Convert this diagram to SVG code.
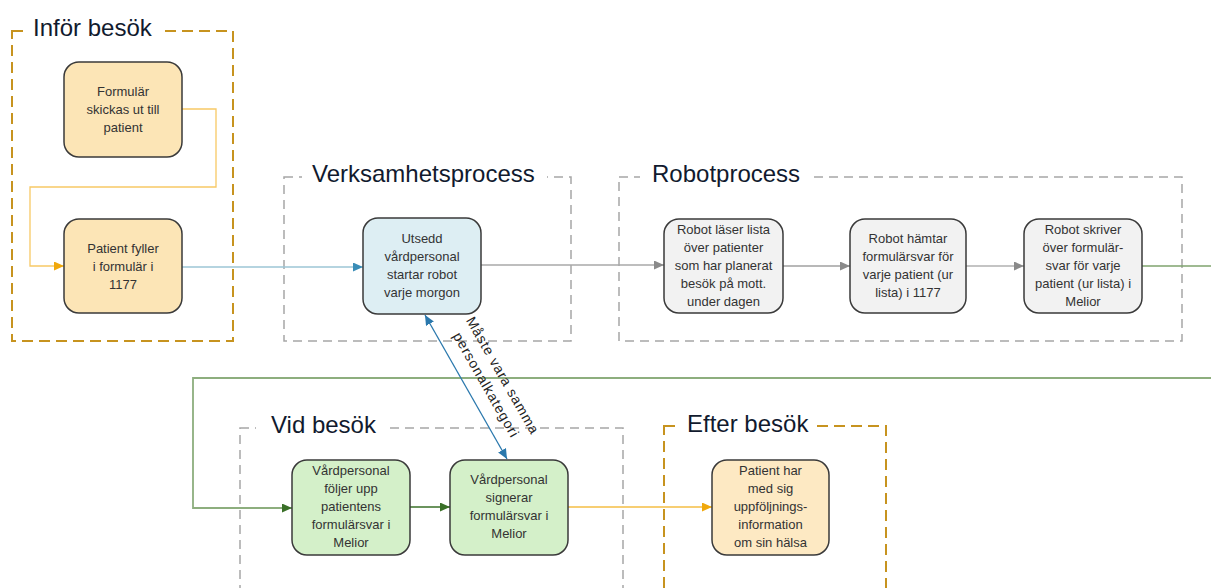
<svg xmlns="http://www.w3.org/2000/svg" width="1211" height="588" viewBox="0 0 1211 588">
<style>
text{font-family:"Liberation Sans",Arial,sans-serif;fill:#1f1f1f}
.ttl{font-size:24px;fill:#111a2e}
.nt{font-size:13px;text-anchor:middle;fill:#333}
.lbl{font-size:14px;text-anchor:middle;fill:#222}
.grpO{fill:none;stroke:#C7931F;stroke-width:2;stroke-dasharray:11 6}
.grpG{fill:none;stroke:#A6A6A6;stroke-width:1.5;stroke-dasharray:9 6}
.box{stroke:#3a3a3a;stroke-width:1.5}
.or{fill:#FCE5B6}
.bl{fill:#DDEEF3}
.gr{fill:#F2F2F2}
.gn{fill:#D4F0C9}
.cut{fill:#fff}
.c{fill:none}
</style>
<defs>
<marker id="aO" markerUnits="userSpaceOnUse" markerWidth="11" markerHeight="10" refX="10" refY="4.5" orient="auto"><path d="M0,0 L10,4.5 L0,9 z" fill="#F0A80C"/></marker>
<marker id="aB" markerUnits="userSpaceOnUse" markerWidth="11" markerHeight="10" refX="10" refY="4.5" orient="auto"><path d="M0,0 L10,4.5 L0,9 z" fill="#3A8DB7"/></marker>
<marker id="aD" markerUnits="userSpaceOnUse" markerWidth="11" markerHeight="10" refX="10" refY="4.5" orient="auto-start-reverse"><path d="M0,0 L10,4.5 L0,9 z" fill="#2A78AD"/></marker>
<marker id="aG" markerUnits="userSpaceOnUse" markerWidth="11" markerHeight="10" refX="10" refY="4.5" orient="auto"><path d="M0,0 L10,4.5 L0,9 z" fill="#8A8A8A"/></marker>
<marker id="aN" markerUnits="userSpaceOnUse" markerWidth="11" markerHeight="10" refX="10" refY="4.5" orient="auto"><path d="M0,0 L10,4.5 L0,9 z" fill="#3A7028"/></marker>
</defs>
<rect width="1211" height="588" fill="#fff"/>

<g id="groups">
<g id="g-infor">
<rect class="grpO" x="12" y="31" width="221" height="310"/>
<rect class="cut" x="27" y="14" width="134" height="30"/>
<text class="ttl" x="33" y="36">Inför besök</text>
</g>
<g id="g-verksamhet">
<rect class="grpG" x="284" y="177" width="287" height="164"/>
<rect class="cut" x="302" y="160" width="245" height="30"/>
<text class="ttl" x="312" y="182">Verksamhetsprocess</text>
</g>
<g id="g-robot">
<rect class="grpG" x="619" y="177" width="563" height="164"/>
<rect class="cut" x="640" y="160" width="172" height="30"/>
<text class="ttl" x="652" y="182">Robotprocess</text>
</g>
<g id="g-vid">
<rect class="grpG" x="240" y="428" width="383" height="180"/>
<rect class="cut" x="256" y="410" width="130" height="30"/>
<text class="ttl" x="271" y="433">Vid besök</text>
</g>
<g id="g-efter">
<rect class="grpO" x="664" y="426" width="222" height="182"/>
<rect class="cut" x="678" y="408" width="138" height="30"/>
<text class="ttl" x="687" y="432">Efter besök</text>
</g>
</g>

<g id="connectors">
<path class="c" d="M182,109 H216 V187 H30 V266 H64" stroke="#F8C965" stroke-width="1.3" marker-end="url(#aO)"/>
<path class="c" d="M182,267 H363" stroke="#9DC6D6" stroke-width="1.5" marker-end="url(#aB)"/>
<path class="c" d="M481,265 H664" stroke="#A8A8A8" stroke-width="1.5" marker-end="url(#aG)"/>
<path class="c" d="M783,266 H850" stroke="#A0A0A0" stroke-width="1.5" marker-end="url(#aG)"/>
<path class="c" d="M966,266 H1024" stroke="#B0B0B0" stroke-width="1.5" marker-end="url(#aG)"/>
<path class="c" d="M1142,266 H1211" stroke="#7FA36E" stroke-width="1.5"/>
<path class="c" d="M1211,378 H193 V508 H292" stroke="#8DAE7E" stroke-width="1.8" marker-end="url(#aN)"/>
<path class="c" d="M410,507 H450" stroke="#3A7028" stroke-width="1.5" marker-end="url(#aN)"/>
<path class="c" d="M568,507 H712" stroke="#F5BE45" stroke-width="1.5" marker-end="url(#aO)"/>
<path class="c" d="M425,315 L507,459" stroke="#2A78AD" stroke-width="1.3" marker-start="url(#aD)" marker-end="url(#aD)"/>
<g transform="translate(494,380) rotate(60.3)">
<text class="lbl" x="0" y="-5" textLength="132" lengthAdjust="spacing">Måste vara samma</text>
<text class="lbl" x="0" y="14" textLength="118" lengthAdjust="spacing">personalkategori</text>
</g>
</g>

<g id="n-formular">
<rect class="box or" x="64" y="62" width="118" height="95" rx="15"/>
<text class="nt" x="123" y="96"><tspan x="123">Formulär</tspan><tspan x="123" dy="18">skickas ut till</tspan><tspan x="123" dy="18">patient</tspan></text>
</g>
<g id="n-patient-fyller">
<rect class="box or" x="64" y="219" width="118" height="94" rx="15"/>
<text class="nt" x="123" y="253"><tspan x="123">Patient fyller</tspan><tspan x="123" dy="18">i formulär i</tspan><tspan x="123" dy="18">1177</tspan></text>
</g>
<g id="n-utsedd">
<rect class="box bl" x="363" y="218" width="118" height="96" rx="15"/>
<text class="nt" x="422" y="243"><tspan x="422">Utsedd</tspan><tspan x="422" dy="18">vårdpersonal</tspan><tspan x="422" dy="18">startar robot</tspan><tspan x="422" dy="18">varje morgon</tspan></text>
</g>
<g id="n-robot1">
<rect class="box gr" x="664" y="219" width="119" height="94" rx="15"/>
<text class="nt" x="723.5" y="234"><tspan x="723.5">Robot läser lista</tspan><tspan x="723.5" dy="18">över patienter</tspan><tspan x="723.5" dy="18">som har planerat</tspan><tspan x="723.5" dy="18">besök på mott.</tspan><tspan x="723.5" dy="18">under dagen</tspan></text>
</g>
<g id="n-robot2">
<rect class="box gr" x="850" y="219" width="116" height="94" rx="15"/>
<text class="nt" x="908" y="243"><tspan x="908">Robot hämtar</tspan><tspan x="908" dy="18">formulärsvar för</tspan><tspan x="908" dy="18">varje patient (ur</tspan><tspan x="908" dy="18">lista) i 1177</tspan></text>
</g>
<g id="n-robot3">
<rect class="box gr" x="1024" y="219" width="118" height="94" rx="15"/>
<text class="nt" x="1083" y="234"><tspan x="1083">Robot skriver</tspan><tspan x="1083" dy="18">över formulär-</tspan><tspan x="1083" dy="18">svar för varje</tspan><tspan x="1083" dy="18">patient (ur lista) i</tspan><tspan x="1083" dy="18">Melior</tspan></text>
</g>
<g id="n-vard1">
<rect class="box gn" x="292" y="460" width="118" height="95" rx="15"/>
<text class="nt" x="351" y="475"><tspan x="351">Vårdpersonal</tspan><tspan x="351" dy="18">följer upp</tspan><tspan x="351" dy="18">patientens</tspan><tspan x="351" dy="18">formulärsvar i</tspan><tspan x="351" dy="18">Melior</tspan></text>
</g>
<g id="n-vard2">
<rect class="box gn" x="450" y="460" width="118" height="95" rx="15"/>
<text class="nt" x="509" y="484"><tspan x="509">Vårdpersonal</tspan><tspan x="509" dy="18">signerar</tspan><tspan x="509" dy="18">formulärsvar i</tspan><tspan x="509" dy="18">Melior</tspan></text>
</g>
<g id="n-patient-har">
<rect class="box or" x="712" y="460" width="117" height="95" rx="15" style="fill:#FDE9C3"/>
<text class="nt" x="770.5" y="475"><tspan x="770.5">Patient har</tspan><tspan x="770.5" dy="18">med sig</tspan><tspan x="770.5" dy="18">uppföljnings-</tspan><tspan x="770.5" dy="18">information</tspan><tspan x="770.5" dy="18">om sin hälsa</tspan></text>
</g>
</svg>
